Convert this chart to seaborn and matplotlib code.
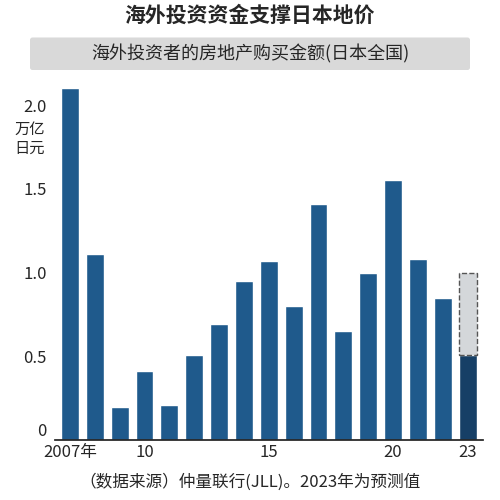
import matplotlib
matplotlib.use("Agg")
import matplotlib.pyplot as plt
import seaborn as sns
import pandas as pd
from matplotlib.patches import FancyBboxPatch

years = list(range(2007, 2024))
values = [2.10, 1.11, 0.20, 0.41, 0.21, 0.51, 0.69, 0.95, 1.07, 0.80, 1.41, 0.65, 1.00, 1.55, 1.08, 0.85, 0.51]
forecast_2023 = 1.00
tick_years = [2007, 2010, 2015, 2020, 2023]
tick_labels = ["2007年", "10", "15", "20", "23"]

sns.set_theme(style="white")
plt.rcParams['font.family'] = ['Noto Sans CJK SC', 'DejaVu Sans']

fig = plt.figure(figsize=(5, 5), dpi=100)
ax = fig.add_axes([0.11, 0.12, 0.855, 0.71])
df = pd.DataFrame({"year": [str(y) for y in years], "value": values})
colors = ["#1f5a8c"] * 16 + ["#163f66"]
sns.barplot(data=df, x="year", y="value", palette=colors, hue="year", legend=False, ax=ax, width=0.72, saturation=1)
ax.bar(16, forecast_2023 - values[-1], bottom=values[-1], width=0.72, color="#d4d7da",
       edgecolor="#555555", linestyle="--", linewidth=1)
ax.set_ylim(0, 2.12)
ax.set_xlim(-0.6, 16.6)
ax.set_yticks([0, 0.5, 1.0, 1.5, 2.0])
ax.set_yticklabels(["0", "0.5", "1.0", "1.5", "2.0"], fontsize=12)
ax.get_yticklabels()[0].set_va("bottom")
ax.set_xticks([y - 2007 for y in tick_years])
ax.set_xticklabels(tick_labels, fontsize=12)
ax.set_xlabel(""); ax.set_ylabel("")
for s in ["top", "right", "left"]:
    ax.spines[s].set_visible(False)
ax.spines["bottom"].set_color("#222222")
ax.tick_params(axis="y", length=0, pad=6)
ax.tick_params(axis="x", length=0, pad=3)
ax.text(-0.095, 0.9, "万亿\n日元", transform=ax.transAxes, fontsize=11, va="top", ha="left", linespacing=1.2)

fig.text(0.5, 0.97, "海外投资资金支撑日本地价", ha="center", va="center", fontsize=15, fontweight="bold")
box = FancyBboxPatch((0.065, 0.865), 0.87, 0.055, boxstyle="round,pad=0.005", transform=fig.transFigure,
                     facecolor="#d9d9d9", edgecolor="none")
fig.patches.append(box)
fig.text(0.5, 0.893, "海外投资者的房地产购买金额(日本全国)", ha="center", va="center", fontsize=13)
fig.text(0.5, 0.035, "（数据来源）仲量联行(JLL)。2023年为预测值", ha="center", va="center", fontsize=12)
fig.savefig("out.png", dpi=100)
